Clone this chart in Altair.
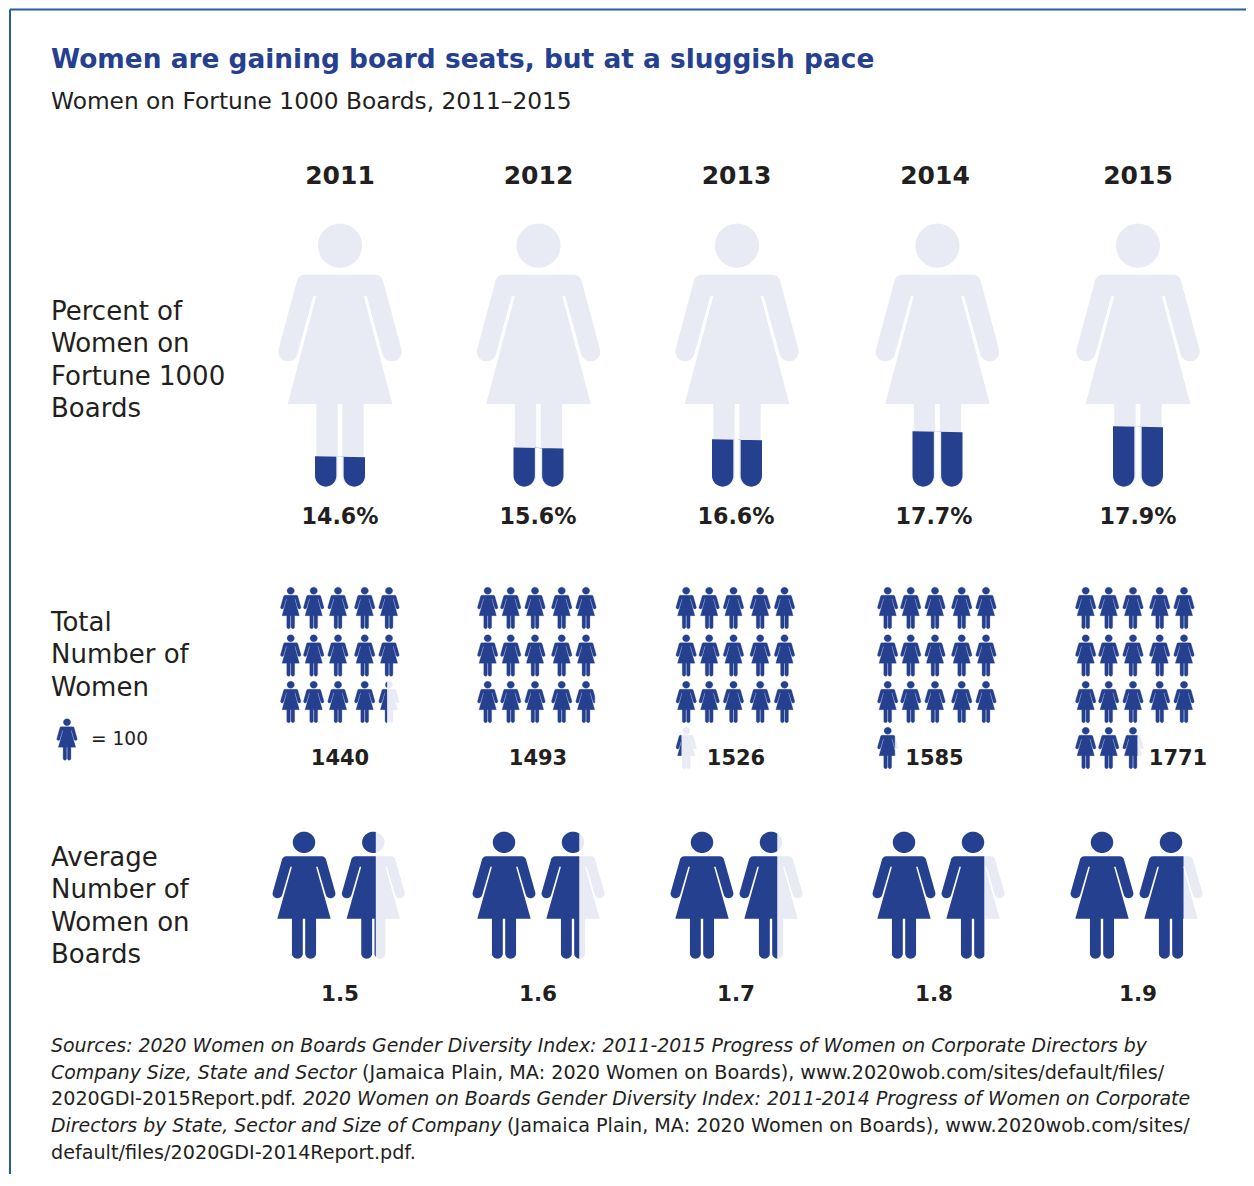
import math
import altair as alt
import pandas as pd

# ---------- chart values ----------
years = [2011, 2012, 2013, 2014, 2015]
percent_labels = ["14.6%", "15.6%", "16.6%", "17.7%", "17.9%"]
percent_fill = [0.114, 0.148, 0.179, 0.209, 0.228]   # drawn fill height share
totals = [1440, 1493, 1526, 1585, 1771]
average_labels = ["1.5", "1.6", "1.7", "1.8", "1.9"]
average_fill = [0.54, 0.60, 0.60, 0.68, 0.70]        # drawn share of the second figure

title = "Women are gaining board seats, but at a sluggish pace"
subtitle = "Women on Fortune 1000 Boards, 2011\u20132015"
row_labels = [
    ["Percent of", "Women on", "Fortune 1000", "Boards"],
    ["Total", "Number of", "Women"],
    ["Average", "Number of", "Women on", "Boards"],
]
legend_label = "= 100"
sources = [
    [("i", "Sources: 2020 Women on Boards Gender Diversity Index: 2011-2015 Progress of Women on Corporate Directors by", 51)],
    [("i", "Company Size, State and Sector", 51), ("r", "(Jamaica Plain, MA: 2020 Women on Boards), www.2020wob.com/sites/default/files/", 362)],
    [("r", "2020GDI-2015Report.pdf.", 51), ("i", "2020 Women on Boards Gender Diversity Index: 2011-2014 Progress of Women on Corporate", 303)],
    [("i", "Directors by State, Sector and Size of Company", 51), ("r", "(Jamaica Plain, MA: 2020 Women on Boards), www.2020wob.com/sites/", 507)],
    [("r", "default/files/2020GDI-2014Report.pdf.", 51)],
]

# ---------- layout and style (page pixels) ----------
RIGHT, BOTTOM = 1246, 1174
BLUE, LIGHT, INK, FRAME = "#25408F", "#E8EAF4", "#231F20", "#2B5A9E"
year_x = [340, 538.5, 736.5, 935, 1138]
big_x = [340, 538.5, 737, 937.5, 1138]
pct_x = [340, 538, 736, 934, 1138]
grid_x = [340, 537, 735.5, 937, 1135]
grid_dx = [-49.3, -26.3, -2, 24.7, 49]
grid_y = [608, 655.5, 702, 748]
total_x = [340, 538, 736, 934.5, 1178]
avg_first = [304, 504, 702, 904, 1102]
avg_second = [373.3, 573, 771, 973, 1171]
big_y, avg_y = 355.3, 895.3
SMALL = (20.3 / 123, 41.4 / 263)
MID = (62.7 / 123, 127 / 263)


# ---------- icon outline ----------
def arc(cx, cy, r, a0, a1, n=14):
    return [(cx + r * math.cos(math.radians(a0 + (a1 - a0) * i / n)),
             cy + r * math.sin(math.radians(a0 + (a1 - a0) * i / n))) for i in range(n + 1)]


def icon_polys(shift=0):
    # outline measured on the large figure; 3 units = 1 px
    half = [(0, 194)] + arc(105, 219, 25, -90, -16) + arc(156, 425, 29, -16, 164, 20)
    half += [(80, 258), (71, 258), (157, 582), (71 + shift, 582)]
    half += arc(39 + shift, 798, 32, 0, 180) + [(7 + shift, 582), (0, 582)]
    body = half + [(-x, y) for x, y in reversed(half)]
    head = arc(0, 107, 66, 0, 360, 48)
    off = (42 + 830) / 2
    return [[(x / 3, (y - off) / 3) for x, y in p] for p in (body, head)]


def clip(poly, a, b, c):
    """Keep the side a*x + b*y <= c."""
    out = []
    for i, p in enumerate(poly):
        q = poly[(i + 1) % len(poly)]
        dp, dq = a * p[0] + b * p[1] - c, a * q[0] + b * q[1] - c
        if dp <= 0:
            out.append(p)
        if dp * dq < 0:
            t = dp / (dp - dq)
            out.append((p[0] + t * (q[0] - p[0]), p[1] + t * (q[1] - p[1])))
    return out


def path(polys, sx=1.0, sy=1.0):
    d = ""
    for p in polys:
        if len(p) > 2:
            d += "M" + "L".join(f"{x * sx:.2f},{y * sy:.2f}" for x, y in p) + "Z"
    return d


BASE = icon_polys()
icons = []


def add(x, y, d, colour, sw=0):
    if d:
        icons.append({"x": x, "y": y, "path": d, "colour": colour, "sw": sw})


def split_icon(x, y, frac, scale, sw=0):
    """Dark to the left of the share, light to the right."""
    sx, sy = scale
    cut = -61.5 + 123 * frac
    if frac < 1:
        add(x, y, path([clip(p, -1, 0, -cut) for p in BASE], sx, sy), LIGHT, sw)
    add(x, y, path([clip(p, 1, 0, cut) for p in BASE], sx, sy), BLUE, sw)


# large figures, filled from the feet
FEET = icon_polys(4)
for cx, f in zip(big_x, percent_fill):
    level = 131.5 - 263 * f
    add(cx, big_y, path(BASE), LIGHT)
    add(cx, big_y, path([clip(p, 0.02, -1, -level) for p in FEET]), BLUE)

# one small figure per hundred
for cx, total in zip(grid_x, totals):
    for k in range(math.ceil(total / 100)):
        frac = min(1, total / 100 - k)
        split_icon(cx + grid_dx[k % 5], grid_y[k // 5], frac, SMALL, 0.3)
split_icon(67, 739.5, 1, SMALL, 0.3)

# average seats
for a, b, f in zip(avg_first, avg_second, average_fill):
    split_icon(a, avg_y, 1, MID)
    split_icon(b, avg_y, f, MID)

# ---------- text tables ----------
bold, regular, italic = [], [], []


def put(table, x, y, text, size, colour=INK, align="left"):
    table.append({"x": x, "y": y, "text": text, "fs": size, "colour": colour, "align": align})


put(bold, 51, 60, title, 26.4, BLUE)
put(regular, 51, 102, subtitle, 23.3)
for x, y_ in zip(year_x, years):
    put(bold, x, 176, str(y_), 25, INK, "center")
for x, s in zip(pct_x, percent_labels):
    put(bold, x, 517, s, 22.2, INK, "center")
for x, t in zip(total_x, totals):
    put(bold, x, 759, str(t), 21, INK, "center")
for x, s in zip(pct_x[:4] + [1138], average_labels):
    put(bold, x, 995, s, 21.5, INK, "center")
for lines, ys in zip(row_labels, [[312, 344, 377, 409], [623, 655, 688], [858, 890, 923, 955]]):
    for s, y in zip(lines, ys):
        put(regular, 51, y, s, 26)
put(regular, 91, 739, legend_label, 18.6)
for line, y in zip(sources, [1046, 1073, 1099, 1126, 1153]):
    for style, s, x in line:
        if style == "i":
            put(italic, x, y, s, 18.9)
        else:
            put(regular, x, y, s, 19.18)

# ---------- chart ----------
X = alt.X("x:Q", scale=alt.Scale(domain=[8, RIGHT], range=[0, RIGHT - 8], zero=False, nice=False), axis=None)
Y = alt.Y("y:Q", scale=alt.Scale(domain=[8, BOTTOM], range=[0, BOTTOM - 8], zero=False, nice=False), axis=None)
COLOUR = alt.Color("colour:N", scale=None, legend=None)


def text_layer(rows, align, **mark):
    df = pd.DataFrame([r for r in rows if r["align"] == align])
    return alt.Chart(df).mark_text(align=align, baseline="middle", font="DejaVu Sans", **mark).encode(
        x=X, y=Y, text="text:N", size=alt.Size("fs:Q", scale=None, legend=None), color=COLOUR)


frame = pd.DataFrame({"x": [10, 10], "y": [9.5, 9.5], "x2": [10, RIGHT], "y2": [BOTTOM, 9.5]})
frame_layer = alt.Chart(frame).mark_rule(strokeWidth=2, color=FRAME).encode(x=X, y=Y, x2="x2:Q", y2="y2:Q")
icon_layer = alt.Chart(pd.DataFrame(icons)).mark_point(filled=True, opacity=1, size=4).encode(
    x=X, y=Y, shape=alt.Shape("path:N", scale=None, legend=None), color=COLOUR,
    stroke=alt.Stroke("colour:N", scale=None, legend=None),
    strokeWidth=alt.StrokeWidth("sw:Q", scale=None, legend=None))

chart = alt.layer(
    frame_layer,
    icon_layer,
    text_layer(bold, "left", fontWeight="bold"),
    text_layer(bold, "center", fontWeight="bold"),
    text_layer(regular, "left"),
    text_layer(italic, "left", fontStyle="italic"),
).properties(width=RIGHT - 8, height=BOTTOM - 8, padding=0, autosize=alt.AutoSizeParams(type="none")).configure_view(stroke=None)

chart.save("out.html", embed_options={"renderer": "svg", "actions": False})
